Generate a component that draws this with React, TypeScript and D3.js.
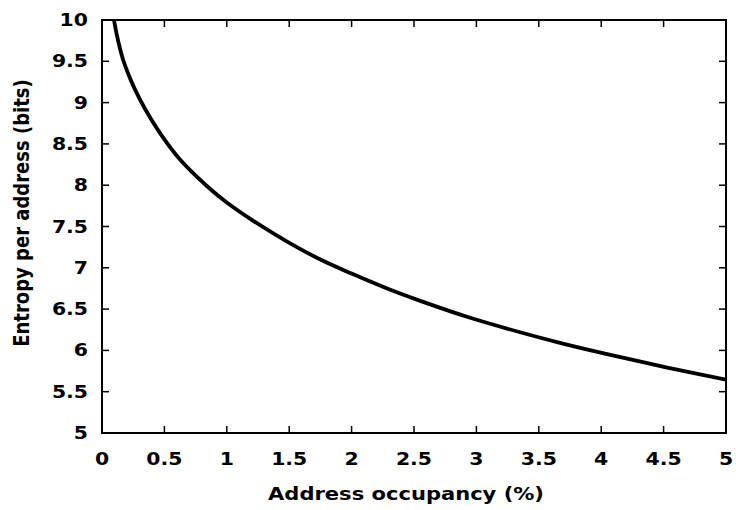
import React from 'react';
import * as d3 from 'd3';

// Address occupancy (%) vs entropy per address (bits)
const occupancy = [0.096, 0.12, 0.145, 0.171, 0.21, 0.264, 0.35, 0.465, 0.625, 0.84, 1.0, 1.2, 1.48, 1.75, 2.0, 2.3, 2.55, 2.95, 3.35, 3.7, 4.02, 4.52, 5.0];
const entropy = [10.0, 9.81, 9.65, 9.51, 9.35, 9.16, 8.91, 8.63, 8.31, 7.99, 7.79, 7.58, 7.32, 7.1, 6.93, 6.74, 6.6, 6.395, 6.22, 6.08, 5.965, 5.795, 5.645];

const xTicks = [0, 0.5, 1, 1.5, 2, 2.5, 3, 3.5, 4, 4.5, 5];
const yTicks = [5, 5.5, 6, 6.5, 7, 7.5, 8, 8.5, 9, 9.5, 10];
const xTitle = 'Address occupancy (%)';
const yTitle = 'Entropy per address (bits)';

const W = 736;
const H = 510;
const L = 102, R = 726, T = 20, B = 433;
const FONT = '"DejaVu Sans", Verdana, sans-serif';
const SX = 1.2;

export default function App() {
  const x = d3.scaleLinear().domain([0, 5]).range([L, R]);
  const y = d3.scaleLinear().domain([5, 10]).range([B, T]);
  const pts = occupancy.map((o, i) => [o, entropy[i]] as [number, number]);
  const line = d3.line<[number, number]>()
    .x(d => x(d[0]))
    .y(d => y(d[1]))
    .curve(d3.curveCatmullRom.alpha(0.5));
  const tl = 7;
  return (
    <svg width={W} height={H} style={{ position: 'absolute', left: 0, top: 0, background: '#fff' }}>
      <defs>
        <clipPath id="plot"><rect x={L} y={T} width={R - L} height={B - T} /></clipPath>
      </defs>
      <rect x={0} y={0} width={W} height={H} fill="#fff" />
      <path d={line(pts) || ''} fill="none" stroke="#000" strokeWidth={3.8} clipPath="url(#plot)" strokeLinejoin="round" />
      {xTicks.map(t => (
        <g key={'x' + t}>
          <line x1={x(t)} x2={x(t)} y1={B} y2={B - tl} stroke="#000" strokeWidth={1.5} />
          <line x1={x(t)} x2={x(t)} y1={T} y2={T + tl} stroke="#000" strokeWidth={1.5} />
          <text transform={`translate(${x(t)},${465}) scale(${SX},1)`} textAnchor="middle" fontFamily={FONT} fontWeight="bold" fontSize={17} fill="#000">{String(t)}</text>
        </g>
      ))}
      {yTicks.map(t => (
        <g key={'y' + t}>
          <line x1={L} x2={L + tl} y1={y(t)} y2={y(t)} stroke="#000" strokeWidth={1.5} />
          <line x1={R} x2={R - tl} y1={y(t)} y2={y(t)} stroke="#000" strokeWidth={1.5} />
          <text transform={`translate(${88},${y(t) + 6}) scale(${SX},1)`} textAnchor="end" fontFamily={FONT} fontWeight="bold" fontSize={17} fill="#000">{String(t)}</text>
        </g>
      ))}
      <rect x={L} y={T} width={R - L} height={B - T} fill="none" stroke="#000" strokeWidth={2} />
      <text transform={`translate(${406},${500}) scale(1.17,1)`} textAnchor="middle" fontFamily={FONT} fontWeight="bold" fontSize={18} fill="#000">{xTitle}</text>
      <text transform={`translate(${29},${213}) scale(${SX},1) rotate(-90)`} textAnchor="middle" fontFamily={FONT} fontWeight="bold" fontSize={18} fill="#000">{yTitle}</text>
    </svg>
  );
}
